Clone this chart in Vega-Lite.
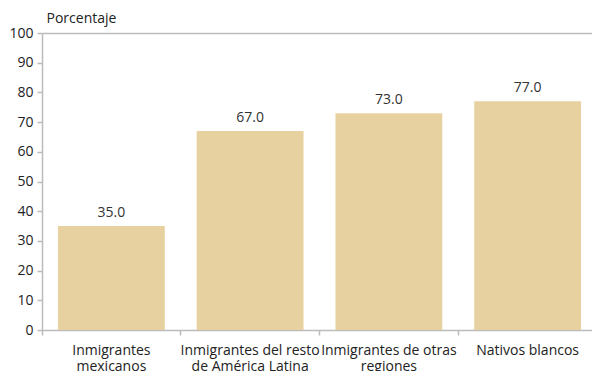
{
  "$schema": "https://vega.github.io/schema/vega-lite/v6.json",
  "width": 555,
  "height": 297,
  "autosize": {"type": "none"},
  "padding": {"left": 42, "top": 33, "right": 0, "bottom": 41},
  "background": "white",
  "config": {
    "view": {"stroke": null},
    "font": "Open Sans",
    "axis": {"labelFont": "Open Sans", "titleFont": "Open Sans"}
  },
  "data": {
    "values": [
      {"grupo": "Inmigrantes mexicanos", "etiqueta": "Inmigrantes|mexicanos", "valor": 35.0},
      {"grupo": "Inmigrantes del resto de América Latina", "etiqueta": "Inmigrantes del resto|de América Latina", "valor": 67.0},
      {"grupo": "Inmigrantes de otras regiones", "etiqueta": "Inmigrantes de otras|regiones", "valor": 73.0},
      {"grupo": "Nativos blancos", "etiqueta": "Nativos blancos", "valor": 77.0}
    ]
  },
  "encoding": {
    "x": {
      "field": "etiqueta",
      "type": "nominal",
      "sort": null,
      "scale": {"paddingInner": 0, "paddingOuter": 0},
      "axis": {
        "title": null,
        "labelAngle": 0,
        "labelExpr": "split(datum.label, '|')",
        "labelFontSize": 14,
        "labelColor": "#222",
        "labelPadding": 8,
        "labelLineHeight": 16,
        "labelBaseline": "top",
        "bandPosition": 0,
        "domainColor": "#bbbbbb",
        "domainWidth": 1.5,
        "tickColor": "#bbbbbb",
        "tickSize": 5,
        "tickWidth": 1.5,
        "labelBound": false,
        "labelOverlap": false
      }
    },
    "y": {
      "field": "valor",
      "type": "quantitative",
      "scale": {"domain": [0, 100], "nice": false},
      "axis": {
        "title": "Porcentaje",
        "titleAngle": 0,
        "titleAlign": "left",
        "titleBaseline": "bottom",
        "titleX": 4,
        "titleY": -8,
        "titleFontSize": 14,
        "titleFontWeight": "normal",
        "titleColor": "#222",
        "values": [0, 10, 20, 30, 40, 50, 60, 70, 80, 90, 100],
        "labelOverlap": false,
        "labelFontSize": 14,
        "labelColor": "#222",
        "labelPadding": 4,
        "grid": true,
        "gridColor": "#bbbbbb",
        "gridWidth": 1.5,
        "gridOpacity": {"expr": "datum.value == 100 ? 1 : 0"},
        "domainColor": "#bbbbbb",
        "domainWidth": 1.5,
        "tickColor": "#bbbbbb",
        "tickSize": 5,
        "tickWidth": 1.5
      }
    }
  },
  "layer": [
    {
      "mark": {"type": "bar", "color": "#E8D1A0", "width": {"band": 0.77}}
    },
    {
      "mark": {"type": "text", "baseline": "bottom", "dy": -6, "fontSize": 14, "color": "#333"},
      "encoding": {
        "text": {"field": "valor", "type": "quantitative", "format": ".1f"}
      }
    }
  ]
}
